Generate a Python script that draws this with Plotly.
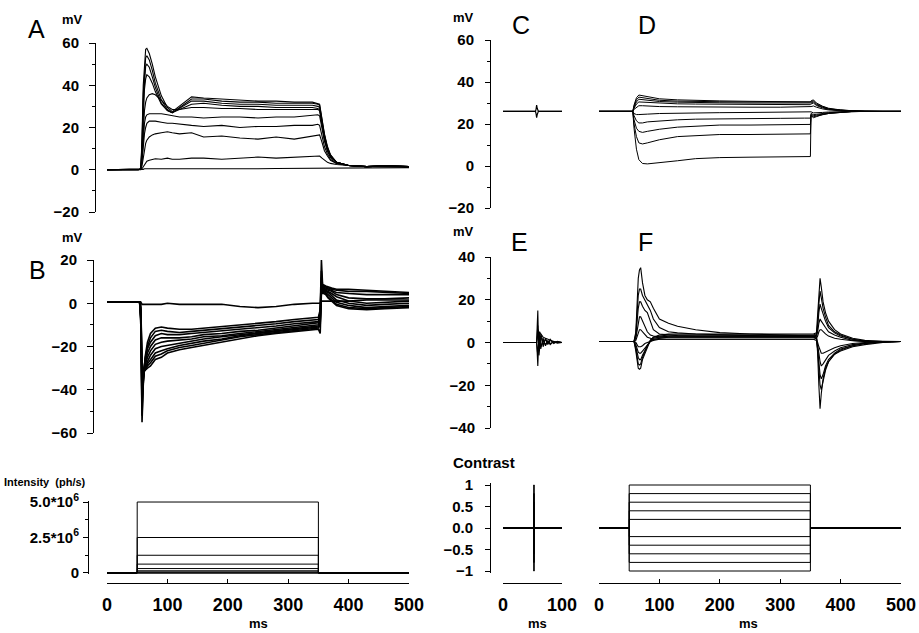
import plotly.graph_objects as go

W, H = 919, 633

# ---------------- data ----------------
# Panel A: responses to intensity steps (mV)
t_A = [0, 52, 56, 58, 60, 62, 64, 66, 70, 75, 80, 90, 100, 108, 120, 140, 160, 190, 220,
       250, 280, 310, 340, 349, 352, 356, 360, 365, 370, 380, 400, 430, 460, 500]
A1 = [0, 0, 0.5, 15, 40, 52, 57, 57.5, 55, 50, 44, 35, 29.5, 27.5, 30, 34.5, 34, 33.5, 33, 32.5, 32.5, 32, 32, 31.5, 31, 24, 17, 11, 7, 3.5, 2, 1.5, 2, 1.5]
A2 = [0, 0, 0.5, 13, 36, 48, 53, 54, 52, 47, 41, 33, 28.5, 27, 29.5, 33.5, 33.5, 32.5, 32, 32, 31.5, 31.5, 31.5, 31, 30.5, 23.5, 16.5, 10.5, 7, 3.5, 2, 1.5, 2, 1.5]
A3 = [0, 0, 0.5, 11, 32, 44, 49, 50, 48.5, 44, 39, 31.5, 28, 27, 29, 32.5, 32.5, 31.5, 31, 31, 30.5, 30.5, 30.5, 30, 29.5, 22.5, 16, 10, 6.5, 3.5, 2, 1.5, 1.8, 1.5]
A4 = [0, 0, 0.3, 9, 27, 38, 43, 45, 44, 41, 37, 31, 28, 27, 28.5, 31, 31.5, 30.5, 30, 30, 29.5, 29.5, 29.5, 29, 28.5, 21.5, 15, 9.5, 6.5, 3.5, 2, 1.5, 1.8, 1.5]
A5 = [0, 0, 0.3, 7, 20, 28, 32, 34, 35.5, 36, 35.5, 33, 30, 28.5, 28.5, 29.5, 29.5, 29, 29, 28.5, 28.5, 28.5, 28.5, 28.5, 28, 20.5, 14.5, 9, 6, 3.5, 2, 1.5, 1.8, 1.5]
A6 = [0, 0, 0.3, 5, 15, 22, 25, 26, 26.5, 26.5, 26.5, 26.5, 26, 25.5, 25, 25, 24.5, 25, 25, 24.5, 25, 25, 25.5, 26, 25.5, 19, 13.5, 9, 6, 3.5, 2, 1.5, 1.8, 1.5]
A7 = [0, 0, 0.2, 4, 11, 17, 20, 22, 23, 23, 23, 22.5, 22, 22, 21.5, 21, 20.5, 21, 20, 20.5, 20.5, 21, 21, 21.5, 21, 16, 11, 7.5, 5, 3, 2, 1.5, 1.8, 1.5]
A8 = [0, 0, 0.2, 2, 6, 10, 12.5, 14, 15.5, 16.5, 17, 17.5, 18, 17.5, 17, 17.5, 15.5, 16, 15, 14.5, 15.5, 14.5, 16, 16.5, 16.5, 13, 9, 6.5, 4.5, 3, 2, 1.5, 1.8, 1.5]
A9 = [0, 0, 0, 0.5, 1.5, 2.5, 3.5, 4, 4.5, 5, 5.2, 5, 5.5, 5, 5, 5.5, 5.5, 5, 5.5, 6, 5.5, 6, 6.5, 6.5, 6.5, 5.5, 4.5, 3.5, 3, 2.5, 2, 1.5, 1.8, 1.5]
A10 = [0, 0, 0, 0, 0.2, 0.5, 0.5, 0.5, 0.5, 0.3, 0.3, 0.3, 0.3, 0.3, 0.2, 0.3, 0.3, 0.5, 0.5, 0.5, 0.6, 0.7, 0.7, 0.8, 0.8, 0.8, 0.8, 0.8, 0.8, 0.8, 0.8, 0.8, 1, 1]

# Panel B (mV)
t_B = [0, 54, 56, 57, 58, 60, 63, 67, 72, 80, 90, 100, 120, 140, 160, 190, 220, 250, 280,
       310, 340, 350, 353, 355, 357, 359, 362, 366, 372, 380, 400, 430, 460, 500]
B1 = [0.5, 0.5, -10, -40, -55, -38, -25, -18, -14, -11.5, -11, -11.5, -12, -12, -11.5, -11, -10, -9.5, -8.5, -7.5, -6.5, -6.5, -3, 20, 8, 8.5, 8, 7.5, 7, 6.5, 6.5, 6, 5.5, 5]
B2 = [0.5, 0.5, -8, -36, -52, -37, -26, -20, -16, -13, -12.5, -13, -13.5, -13, -12.5, -12, -11, -10.5, -9.5, -8.5, -7.5, -7.5, -4, 15, 7.5, 8, 7.5, 7, 6.5, 6, 5.5, 5.5, 5, 4.5]
B3 = [0.5, 0.5, -7, -32, -48, -36, -27, -21, -18, -15, -14, -14.5, -14.5, -14, -13.5, -13, -12, -11.5, -10.5, -9.5, -8.5, -8.5, -5, 12, 7, 7.5, 7, 6.5, 6, 5, 4.5, 4, 4, 4]
B4 = [0.5, 0.5, -6, -28, -44, -35, -28, -23, -20, -17, -16, -16, -16, -15.5, -14.5, -14, -13, -12.5, -11.5, -10.5, -9.5, -9, -6, 10, 7, 7, 6.5, 6, 5.5, 4, 2.5, 2, 2, 2.5]
B5 = [0.5, 0.5, -5, -25, -40, -34, -29, -25, -22, -19, -18, -17.5, -17, -16.5, -15.5, -15, -14, -13, -12, -11, -10, -10, -7, 9, 6.5, 6.5, 6, 5.5, 4.5, 3, 1, 0, 0.5, 1]
B6 = [0.5, 0.5, -4, -22, -36, -33, -30, -27, -24, -21, -20, -19.5, -18.5, -17.5, -16.5, -15.5, -14.5, -13.5, -12.5, -11.5, -10.5, -10.5, -8, 8, 6, 6, 5.5, 5, 3.5, 1.5, 0, -1, -0.5, 0]
B7 = [0.5, 0.5, -3, -19, -33, -32, -31, -28, -26, -23, -22, -21, -19.5, -18.5, -17.5, -16.5, -15, -14, -13, -12, -11, -11, -9, 7, 5.5, 5.5, 5, 4, 2.5, 0.5, -1, -2, -1.5, -1]
B8 = [0.5, 0.5, -2, -16, -30, -31, -31, -29, -27.5, -24.5, -23.5, -22, -20.5, -19.5, -18.5, -17, -15.5, -14.5, -13.5, -12.5, -11.5, -11.5, -10, 6, 5, 5, 4.5, 3, 1.5, -0.5, -2, -2.5, -2, -1.5]
B9 = [0.5, 0.5, -1, -13, -27, -30, -31, -30, -29, -26, -25, -23, -21.5, -20.5, -19.5, -18, -16.5, -15, -14, -13, -12, -12, -14, 5, 4.5, 4.5, 4, 2.5, 1, -1, -2.5, -3, -2.5, -2]
B10 = [0.5, 0.5, 0.5, 0, -0.5, -0.5, -0.5, -0.5, -0.5, -0.5, -0.5, 0, -0.5, -0.5, -0.5, -0.5, -1.5, -2, -1.5, -0.5, 0, 0, 0, 1, 1, 1, 1, 1, 1, 1, 1, 1.5, 1.5, 1.5]

# Bottom left: light intensity steps (ph/s)
t_step = [0, 50, 50, 350, 350, 500]
intensities = [5.0e6, 2.5e6, 1.25e6, 6.25e5, 3.125e5, 1.5625e5, 7.8e4, 3.9e4, 1.95e4, 9.8e3]

# Panel C (mV), 0-100 ms
t_C = [0, 55, 56, 57, 58, 59, 60, 62, 100]
C1 = [26, 26, 27, 29, 27.5, 26.5, 26, 26, 26]
C2 = [26, 26, 25, 23, 24.5, 25.5, 26, 26, 26]

# Panel D (mV)
t_D = [0, 54, 56, 58, 62, 66, 72, 80, 100, 130, 160, 200, 250, 300, 340, 350, 351,
       355, 360, 370, 380, 400, 420, 440, 470, 500]
D_neg1 = [26, 26, 26, 18, 8, 3, 1.2, 1, 1.5, 2.5, 3.5, 4, 4.2, 4.3, 4.4, 4.5, 24, 23, 23.5, 24.5, 25, 25.5, 26, 26, 26, 26]
D_neg2 = [26, 26, 26, 20, 14, 11, 10.5, 11, 12.5, 14, 14.5, 15, 15, 15, 15.2, 15.3, 24, 23.5, 23.8, 24.5, 25, 25.5, 26, 26, 26, 26]
D_neg3 = [26, 26, 26, 22, 18, 16.5, 16, 16.5, 17.5, 18.5, 19, 19.5, 19.5, 19.5, 19.7, 19.8, 24.5, 24, 24.2, 24.8, 25.2, 25.6, 26, 26, 26, 26]
D_neg4 = [26, 26, 26, 24, 21.5, 20.5, 20.5, 21, 21.5, 22, 22.3, 22.5, 22.6, 22.7, 22.8, 22.8, 25, 24.5, 24.6, 25, 25.4, 25.7, 26, 26, 26, 26]
D_neg5 = [26, 26, 26, 25, 24.5, 24.5, 24.5, 24.7, 25, 25.2, 25.3, 25.4, 25.5, 25.5, 25.5, 25.6, 25.8, 25.3, 25.3, 25.5, 25.7, 25.9, 26, 26, 26, 26]
D_pos1 = [26, 26, 26, 29, 32.5, 33.8, 33.5, 33, 32, 31.5, 31.2, 31, 30.8, 30.7, 30.6, 30.5, 31, 31.5, 30, 28.5, 27.5, 26.7, 26.3, 26.1, 26, 26]
D_pos2 = [26, 26, 26, 28.5, 31.5, 32.8, 32.5, 32, 31.3, 30.9, 30.7, 30.6, 30.5, 30.4, 30.3, 30.2, 30.5, 31, 29.6, 28.3, 27.3, 26.6, 26.2, 26.1, 26, 26]
D_pos3 = [26, 26, 26, 28, 30.5, 31.8, 31.6, 31.2, 30.7, 30.4, 30.2, 30.1, 30, 29.9, 29.9, 29.8, 30, 30.5, 29.2, 28, 27.1, 26.5, 26.2, 26, 26, 26]
D_pos4 = [26, 26, 26, 27.5, 29.5, 30.5, 30.4, 30.2, 29.8, 29.6, 29.5, 29.4, 29.3, 29.3, 29.3, 29.2, 29.5, 30, 28.8, 27.7, 27, 26.5, 26.2, 26, 26, 26]
D_pos5 = [26, 26, 26, 27, 28, 28.7, 28.7, 28.5, 28.3, 28.2, 28.1, 28.1, 28, 28, 28, 28, 28.3, 28.6, 28, 27.2, 26.7, 26.3, 26.1, 26, 26, 26]

# Panel E (mV), 0-100 ms
t_E = [0, 55, 57, 58, 59, 60, 61, 62, 64, 66, 68, 72, 76, 80, 86, 92, 100]
E1 = [0, 0, 0, 8, 15, 2, -6, -3, 4, 2, -2, 2, -1, 1.5, -0.5, 0.5, 0]
E2 = [0, 0, 0, -5, -11, -3, 5, 3, -3, -1, 2, -1.5, 1, -1, 0.5, -0.3, 0]
E3 = [0, 0, 0, 4, 8, 1, -3, -1, 3, 1, -1, 1.5, -0.5, 1, 0, 0.3, 0]
E4 = [0, 0, 0, -3, -6, -1, 3, 1, -2, -0.5, 1, -1, 0.5, -0.5, 0.3, 0, 0]
E5 = [0, 0, 0, 2, 4, 6, 3, 5, 4, 3, 2.5, 2, 1.5, 1, 0.5, 0.3, 0]

# Panel F (mV)
t_F = [0, 58, 61, 63, 65, 67, 69, 72, 76, 80, 85, 90, 100, 115, 130, 160, 200, 250, 300,
       340, 355, 360, 362, 364, 366, 368, 371, 375, 380, 390, 400, 420, 440, 470, 500]
F_p1 = [0.5, 0.5, 5, 20, 30, 34, 35, 28, 22, 20, 19, 16, 11, 9, 7.6, 6, 4.6, 4, 3.5, 3, 3, 2.5, -5, -20, -31, -24, -17, -12, -9, -5.5, -4, -2, -1, 0, 0.5]
F_p2 = [0.5, 0.5, 4, 14, 22, 25, 25, 22, 20, 18, 15, 11, 7, 5, 4.5, 4, 3.5, 3.2, 3, 3, 3, 2.5, -3, -12, -20, -22, -18, -13, -9, -5.5, -3.5, -1.5, -0.5, 0.3, 0.5]
F_p3 = [0.5, 0.5, 3, 10, 16, 19, 19, 17, 15, 14, 10, 6, 4, 3.5, 3.2, 3, 3, 3, 3, 3, 3, 2.5, -2, -9, -15, -17, -15, -11, -8, -5, -3, -1.5, -0.5, 0.3, 0.5]
F_p4 = [0.5, 0.5, 2, 6, 10, 12, 12, 10, 7, 5, 3.5, 3, 2.5, 2.5, 2.5, 2.5, 2.5, 2.5, 2.5, 2.5, 2.5, 2, -1, -5, -9, -11, -10, -8, -6, -4, -2.5, -1, -0.3, 0.3, 0.5]
F_p5 = [0.5, 0.5, 1, 3, 5, 6, 6, 5, 3.5, 2.5, 2, 1.5, 1.5, 1.5, 1.5, 1.5, 1.5, 1.5, 1.5, 1.5, 1.5, 1, 0, -2, -4, -5, -5, -4.5, -3.5, -2.5, -1.5, -0.5, 0, 0.3, 0.5]
F_n1 = [0.5, 0.5, 0, -1, -2, -2, -2, -1.5, -0.5, 0, 0.5, 1, 1.5, 1.5, 1.5, 1.5, 1.5, 1.5, 1.5, 1.5, 1.5, 2, 3, 5, 6, 6, 5, 4, 3, 2, 1.5, 0.8, 0.5, 0.5, 0.5]
F_n2 = [0.5, 0.5, -1, -3, -4.5, -5, -5, -4, -2.5, -1, 0.5, 1.5, 2, 2.5, 2.5, 2.5, 2.5, 2.5, 2.5, 2.5, 2.5, 3, 5, 9, 11, 10, 8.5, 7, 5, 3.5, 2.5, 1, 0.5, 0.5, 0.5]
F_n3 = [0.5, 0.5, -2, -5, -7, -8, -8, -6, -3.5, -1.5, 0.5, 2, 2.5, 3, 3, 3, 3, 3, 3, 3, 3, 3.5, 7, 14, 18, 16, 13, 10, 7, 4.5, 3, 1.5, 0.7, 0.5, 0.5]
F_n4 = [0.5, 0.5, -3, -7, -10, -10.5, -10, -7, -4, -1.5, 1, 2.5, 3, 3.5, 3.5, 3.5, 3.5, 3.5, 3.5, 3.5, 3.5, 4, 9, 18, 24, 21, 16, 12, 8, 5, 3.5, 1.5, 0.7, 0.5, 0.5]
F_n5 = [0.5, 0.5, -4, -9, -12, -12.5, -12, -8, -5, -2, 1, 2.5, 3.5, 4, 4, 4, 4, 4, 4, 4, 4, 4.5, 12, 24, 30, 26, 19, 14, 10, 6, 4, 2, 1, 0.5, 0.5]

# Bottom right: contrast stimuli
t_pulse = [0, 52, 52, 53, 53, 100]
contrasts = [1.0, 0.8, 0.6, 0.4, 0.2, -0.2, -0.4, -0.6, -0.8, -1.0]

# tick labels
ticks_A = [-20, 0, 20, 40, 60]
ticks_B = [-60, -40, -20, 0, 20]
ticks_I = [0, 2.5e6, 5.0e6]
ticklabels_I = ["0", "2.5*10<sup>6</sup>", "5.0*10<sup>6</sup>"]
ticks_E = [-40, -20, 0, 20, 40]
ticks_contrast = [-1, -0.5, 0, 0.5, 1]
ticklabels_contrast = ["\u22121", "\u22120.5", "0.0", "0.5", "1"]
ticks_time = [0, 100, 200, 300, 400, 500]
ticks_time_short = [0, 100]

# ---------------- figure ----------------
def px(x):
    return x / W

def py(y):
    return 1 - y / H

fig = go.Figure()

def add(xs, ys, xa, ya, width=1.0):
    fig.add_trace(go.Scatter(x=xs, y=ys, xaxis=xa, yaxis=ya, mode="lines",
                             line=dict(color="black", width=width),
                             hoverinfo="skip", showlegend=False))

for tr in [A1, A2, A3, A4, A5, A6, A7, A8, A9, A10]:
    add(t_A, tr, "x", "y", 1.1)
for tr in [B10, B1, B2, B3, B4, B5, B6, B7, B8, B9]:
    add(t_B, tr, "x", "y2", 1.6)
for lvl in intensities:
    add(t_step, [0, 0, lvl, lvl, 0, 0], "x", "y3", 1.0)

for tr in [C1, C2]:
    add(t_C, tr, "x2", "y4", 1.2)
for tr in [D_neg1, D_neg2, D_neg3, D_neg4, D_neg5, D_pos1, D_pos2, D_pos3, D_pos4, D_pos5]:
    add(t_D, tr, "x3", "y4", 1.0)
for tr in [E1, E2, E3, E4, E5]:
    add(t_E, tr, "x2", "y5", 1.1)
for tr in [F_p1, F_p2, F_p3, F_p4, F_p5, F_n1, F_n2, F_n3, F_n4, F_n5]:
    add(t_F, tr, "x3", "y5", 1.1)
for c in contrasts:
    add(t_pulse, [0, 0, c, c, 0, 0], "x2", "y6", 1.0)
    add(t_step, [0, 0, c, c, 0, 0], "x3", "y6", 1.0)

FONT = "Liberation Sans, Arial, Helvetica, sans-serif"
ytickfont = dict(family=FONT, size=15, color="black", weight="bold")
xtickfont = dict(family=FONT, size=18, color="black", weight="bold")

def yax(rng, top, bottom, pos, standoff, **kw):
    d = dict(range=rng, domain=[py(bottom), py(top)], anchor="free", position=px(pos),
             showline=True, linecolor="black", linewidth=1, ticks="outside",
             ticklen=6, tickwidth=1, tickcolor="black", showgrid=False, zeroline=False,
             tickfont=ytickfont, ticklabelstandoff=standoff, fixedrange=True,
             automargin=False)
    d.update(kw)
    return d

def xax(rng, left, right, show, **kw):
    d = dict(range=rng, domain=[px(left), px(right)], showgrid=False, zeroline=False,
             fixedrange=True, automargin=False)
    if show:
        d.update(anchor="free", position=py(583), showline=True, linecolor="black",
                 linewidth=1, ticks="inside", ticklen=4, tickwidth=1, tickcolor="black",
                 tickfont=xtickfont, ticklabelstandoff=5)
    d.update(kw)
    return d

minor10 = dict(ticks="outside", ticklen=3, tickcolor="black", dtick=10, tick0=0, showgrid=False)

fig.update_layout(
    width=W, height=H, margin=dict(l=0, r=0, t=0, b=0, autoexpand=False),
    paper_bgcolor="white", plot_bgcolor="white", showlegend=False,
    font=dict(family=FONT, color="black"),
    xaxis=xax([0, 500], 107, 409, True, tickvals=ticks_time),
    xaxis2=xax([0, 100], 503, 562, True, tickvals=ticks_time_short),
    xaxis3=xax([0, 500], 599, 901, True, tickvals=ticks_time),
    yaxis=yax([-20, 60], 43, 212, 95, 7, tickvals=ticks_A, minor=minor10),
    yaxis2=yax([-60, 20], 260, 433, 93, 7, tickvals=ticks_B, minor=minor10),
    yaxis3=yax([-0.05e6, 5.1e6], 500.6, 573.7, 88, 1, tickvals=ticks_I,
               ticktext=ticklabels_I, ticklen=5,
               minor=dict(ticks="outside", ticklen=3, tickcolor="black",
                          tickvals=[1.25e6, 3.75e6], showgrid=False)),
    yaxis4=yax([-20, 60], 40, 208, 490, 8, tickvals=ticks_A, ticklen=5, minor=minor10),
    yaxis5=yax([-40, 40], 257, 428, 490, 7, tickvals=ticks_E, ticklen=5, minor=minor10),
    yaxis6=yax([-1.05, 1.05], 482.85, 573.15, 490, 9, tickvals=ticks_contrast,
               ticktext=ticklabels_contrast, ticklen=5),
)

def label(text, x, y, size, bold=False, xanchor="center"):
    fig.add_annotation(text=text, x=px(x), y=py(y), xref="paper", yref="paper",
                       showarrow=False, xanchor=xanchor, yanchor="middle",
                       font=dict(family=FONT, size=size, color="black",
                                 weight="bold" if bold else "normal"))

label("A", 36, 29, 25)
label("B", 37, 270, 25)
label("C", 521, 25, 25)
label("D", 647, 25, 25)
label("E", 519, 242, 25)
label("F", 645, 242, 25)
label("mV", 72, 20, 13, True)
label("mV", 72, 237, 13, True)
label("mV", 463, 18, 13, True)
label("mV", 463, 232, 13, True)
label("Intensity  (ph/s)", 2, 482, 11, True, xanchor="left")
label("Contrast", 451, 462, 15, True, xanchor="left")
label("ms", 258, 623, 13, True)
label("ms", 537, 623, 13, True)
label("ms", 748, 623, 13, True)

fig.write_html("out.html", config={"displayModeBar": False},
               post_script="document.body.style.margin='0px';document.body.style.overflow='hidden';")
